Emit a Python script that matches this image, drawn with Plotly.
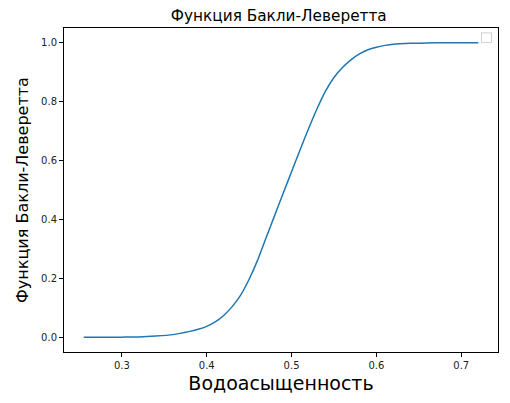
import plotly.graph_objects as go

# Water saturation (x) and Buckley-Leverett fractional flow (y)
saturation = [0.255, 0.28, 0.30, 0.32, 0.34, 0.36, 0.38, 0.39, 0.40, 0.41, 0.42, 0.43,
              0.44, 0.45, 0.46, 0.47, 0.48, 0.49, 0.50, 0.51, 0.52, 0.53, 0.54, 0.55,
              0.56, 0.57, 0.58, 0.59, 0.60, 0.61, 0.62, 0.64, 0.66, 0.68, 0.70, 0.72]
fractional_flow = [0.0, 0.0, 0.0005, 0.001, 0.004, 0.009, 0.020, 0.027, 0.037, 0.052,
                   0.074, 0.104, 0.143, 0.197, 0.262, 0.338, 0.413, 0.488, 0.562, 0.636,
                   0.708, 0.776, 0.836, 0.882, 0.916, 0.942, 0.962, 0.976, 0.985, 0.991,
                   0.995, 0.998, 0.999, 1.0, 1.0, 1.0]

x_ticks = [0.3, 0.4, 0.5, 0.6, 0.7]
y_ticks = [0.0, 0.2, 0.4, 0.6, 0.8, 1.0]

title_text = "Функция Бакли-Леверетта"
x_label = "Водоасыщенность"
y_label = "Функция Бакли-Леверетта"

fig = go.Figure()
fig.add_trace(go.Scatter(
    x=saturation, y=fractional_flow, mode="lines",
    line=dict(color="#1f77b4", width=1.5, shape="spline", smoothing=0.5),
    showlegend=False, hoverinfo="skip",
))

axis_common = dict(
    showgrid=False, zeroline=False, showline=True, linecolor="black", linewidth=1,
    mirror=True, ticks="outside", ticklen=4, tickcolor="black", tickwidth=1,
    automargin=False,
    tickfont=dict(family="DejaVu Sans", size=10, color="#222"),
)

fig.update_layout(
    width=510, height=403,
    margin=dict(l=56, r=20, t=20, b=59),
    paper_bgcolor="white", plot_bgcolor="white",
    font=dict(family="DejaVu Sans", color="black"),
    title=dict(text=title_text, x=0.531, xanchor="center", y=0.98, yanchor="middle",
               font=dict(family="DejaVu Sans", size=15.3, color="black"),
               automargin=False),
    xaxis=dict(range=[0.2318, 0.7433], tickvals=x_ticks,
               ticktext=[f"{v:.1f}" for v in x_ticks],
               title=dict(text=x_label, font=dict(size=19, color="black"), standoff=6),
               **axis_common),
    yaxis=dict(range=[-0.05, 1.05], tickvals=y_ticks,
               ticktext=[f"{v:.1f}" for v in y_ticks],
               title=dict(text=y_label, font=dict(size=16, color="black"), standoff=8),
               **axis_common),
    shapes=[dict(type="rect", xref="paper", yref="paper",
                 x0=0.962, x1=0.985, y0=0.955, y1=0.985,
                 line=dict(color="#d0d0d0", width=1), fillcolor="white")],
)

fig.write_html("out.html")
